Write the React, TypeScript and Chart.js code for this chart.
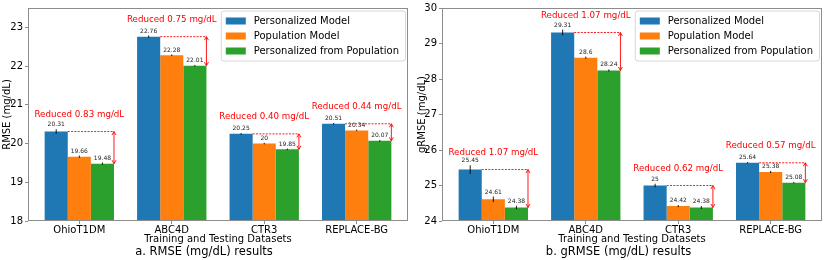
import React, { useEffect, useRef } from 'react';
import { Chart, registerables } from 'chart.js';

Chart.register(...registerables);

const FONT = '"DejaVu Sans", sans-serif';

const categories = ['OhioT1DM', 'ABC4D', 'CTR3', 'REPLACE-BG'];
const seriesNames = ['Personalized Model', 'Population Model', 'Personalized from Population'];
const seriesColors = ['#1f77b4', '#ff7f0e', '#2ca02c'];

// a. RMSE
const rmsePersonalized = [20.31, 22.76, 20.25, 20.51];
const rmsePopulation = [19.66, 22.28, 20, 20.34];
const rmsePersFromPop = [19.48, 22.01, 19.85, 20.07];
const rmseErrPersonalized = [0.06, 0.03, 0.02, 0.02];
const rmseErrPopulation = [0.03, 0.02, 0.02, 0.02];
const rmseErrPersFromPop = [0.03, 0.02, 0.02, 0.02];
const rmseReductions = ['Reduced 0.83 mg/dL', 'Reduced 0.75 mg/dL', 'Reduced 0.40 mg/dL', 'Reduced 0.44 mg/dL'];
const rmseTicks = [18, 19, 20, 21, 22, 23];
const rmseMin = 18;
const rmseMax = 23.5;

// b. gRMSE
const grmsePersonalized = [25.45, 29.31, 25, 25.64];
const grmsePopulation = [24.61, 28.6, 24.42, 25.38];
const grmsePersFromPop = [24.38, 28.24, 24.38, 25.08];
const grmseErrPersonalized = [0.12, 0.08, 0.05, 0.02];
const grmseErrPopulation = [0.08, 0.03, 0.03, 0.03];
const grmseErrPersFromPop = [0.05, 0.03, 0.04, 0.02];
const grmseReductions = ['Reduced 1.07 mg/dL', 'Reduced 1.07 mg/dL', 'Reduced 0.62 mg/dL', 'Reduced 0.57 mg/dL'];
const grmseTicks = [24, 25, 26, 27, 28, 29, 30];
const grmseMin = 24;
const grmseMax = 30;

type PanelProps = {
  series: number[][];
  errors: number[][];
  reductions: string[];
  yTicks: number[];
  yMin: number;
  yMax: number;
  yTitle: string;
  caption: string;
  yWidth: number;
  padRight: number;
};

function makeOverlay(errors: number[][], reductions: string[]) {
  return {
    id: 'overlay',
    afterDatasetsDraw(chart: any) {
      const ctx: CanvasRenderingContext2D = chart.ctx;
      const ys = chart.scales.y;
      const area = chart.chartArea;
      ctx.save();

      // error bars + value labels
      chart.data.datasets.forEach((ds: any, di: number) => {
        const meta = chart.getDatasetMeta(di);
        meta.data.forEach((bar: any, i: number) => {
          const v = ds.data[i].y;
          const e = errors[di][i];
          const yTop = ys.getPixelForValue(v + e);
          const yBot = ys.getPixelForValue(v - e);
          const xc = bar.x;
          ctx.strokeStyle = '#000';
          ctx.lineWidth = 0.9;
          ctx.setLineDash([]);
          ctx.beginPath();
          ctx.moveTo(xc, yTop);
          ctx.lineTo(xc, yBot);
          ctx.stroke();
          ctx.fillStyle = '#222';
          ctx.font = `6px ${FONT}`;
          ctx.textAlign = 'center';
          ctx.textBaseline = 'bottom';
          ctx.fillText(String(v), xc, yTop - 1.5);
        });
      });

      // reduction annotations
      const m0 = chart.getDatasetMeta(0);
      const m1 = chart.getDatasetMeta(1);
      const m2 = chart.getDatasetMeta(2);
      reductions.forEach((label, i) => {
        const b = m0.data[i];
        const g = m2.data[i];
        const o = m1.data[i];
        const x1 = b.x + b.width / 2;
        const x2 = g.x + g.width / 2;
        const yb = b.y;
        const yg = g.y;
        ctx.strokeStyle = '#ff0000';
        ctx.lineWidth = 0.9;
        ctx.setLineDash([2, 1.3]);
        ctx.beginPath();
        ctx.moveTo(x1, yb);
        ctx.lineTo(x2, yb);
        ctx.stroke();
        ctx.setLineDash([]);
        ctx.beginPath();
        ctx.moveTo(x2, yb);
        ctx.lineTo(x2, yg);
        ctx.moveTo(x2 - 2, yb + 3.5);
        ctx.lineTo(x2, yb);
        ctx.lineTo(x2 + 2, yb + 3.5);
        ctx.moveTo(x2 - 2, yg - 3.5);
        ctx.lineTo(x2, yg);
        ctx.lineTo(x2 + 2, yg - 3.5);
        ctx.stroke();
        ctx.fillStyle = '#ff0000';
        ctx.font = `8.7px ${FONT}`;
        ctx.textAlign = 'center';
        ctx.textBaseline = 'middle';
        ctx.fillText(label, o.x, yb - 17);
      });

      // frame
      ctx.strokeStyle = '#8c8c8c';
      ctx.lineWidth = 1;
      ctx.setLineDash([]);
      const L = Math.round(area.left) + 0.5;
      const R = Math.round(area.right) - 0.5;
      const T = Math.round(area.top) + 0.5;
      const B = Math.round(area.bottom) - 0.5;
      ctx.strokeRect(L, T, R - L, B - T);

      // legend (upper right, inside)
      ctx.font = `10px ${FONT}`;
      const names: string[] = chart.data.datasets.map((d: any) => d.label);
      const maxW = Math.max(...names.map((n) => ctx.measureText(n).width));
      const boxW = 33 + maxW + 6;
      const boxH = 50;
      const bx = area.right - 3 - boxW;
      const by = area.top + 2.5;
      ctx.beginPath();
      (ctx as any).roundRect(bx + 0.5, by + 0.5, boxW, boxH, 2.5);
      ctx.fillStyle = 'rgba(255,255,255,0.8)';
      ctx.fill();
      ctx.strokeStyle = '#d6d6d6';
      ctx.stroke();
      chart.data.datasets.forEach((d: any, di: number) => {
        const cy = by + 10.5 + di * 15;
        ctx.fillStyle = d.backgroundColor;
        ctx.fillRect(bx + 5, cy - 3.5, 20, 7);
        ctx.fillStyle = '#000';
        ctx.textAlign = 'left';
        ctx.textBaseline = 'middle';
        ctx.fillText(d.label, bx + 33, cy + 0.5);
      });

      ctx.restore();
    },
  };
}

function Panel(props: PanelProps) {
  const ref = useRef<HTMLCanvasElement | null>(null);
  useEffect(() => {
    if (!ref.current) return;
    const chart = new Chart(ref.current, {
      type: 'bar',
      data: {
        datasets: props.series.map((vals, di) => ({
          label: seriesNames[di],
          data: vals.map((v, i) => ({ x: i, y: v })),
          backgroundColor: seriesColors[di],
          borderWidth: 0,
          categoryPercentage: 0.75,
          barPercentage: 1,
        })),
      },
      options: {
        responsive: false,
        animation: false,
        events: [],
        layout: { padding: { left: 0, right: props.padRight, top: 6, bottom: 0 } },
        plugins: {
          legend: { display: false },
          tooltip: { enabled: false },
          title: {
            display: true,
            text: props.caption,
            position: 'bottom',
            color: '#000',
            font: { family: FONT, size: 11.5, weight: 'normal' },
            padding: { top: 0, bottom: 1.2 },
          },
        },
        scales: {
          x: {
            type: 'linear',
            min: -0.555,
            max: 3.555,
            offset: false,
            grid: { display: true, drawOnChartArea: false, drawTicks: true, tickLength: 3, color: '#8c8c8c', offset: false },
            border: { display: false },
            afterBuildTicks: (scale: any) => {
              scale.ticks = categories.map((_, i) => ({ value: i }));
            },
            afterFit: (scale: any) => {
              scale.height = 24;
            },
            ticks: {
              color: '#000',
              font: { family: FONT, size: 10 },
              padding: 0,
              maxRotation: 0,
              autoSkip: false,
              callback: (value: any) => categories[value as number] ?? '',
            },
            title: {
              display: true,
              text: 'Training and Testing Datasets',
              color: '#000',
              font: { family: FONT, size: 10 },
              padding: { top: 0, bottom: 0 },
            },
          },
          y: {
            type: 'linear',
            min: props.yMin,
            max: props.yMax,
            grid: { display: true, drawOnChartArea: false, drawTicks: true, tickLength: 3, color: '#8c8c8c' },
            border: { display: false },
            afterBuildTicks: (scale: any) => {
              scale.ticks = props.yTicks.map((v) => ({ value: v }));
            },
            afterFit: (scale: any) => {
              scale.width = props.yWidth;
            },
            ticks: {
              color: '#000',
              font: { family: FONT, size: 10 },
              padding: 2,
              callback: (value: any) => String(value),
            },
            title: {
              display: true,
              text: props.yTitle,
              color: '#000',
              font: { family: FONT, size: 10 },
              padding: { top: 1.5, bottom: 0 },
            },
          },
        },
      } as any,
      plugins: [makeOverlay(props.errors, props.reductions)],
    });
    return () => chart.destroy();
  }, []);
  return <canvas ref={ref} width={415} height={260} style={{ width: 415, height: 260, display: 'block' }} />;
}

export default function App() {
  useEffect(() => {
    document.body.style.margin = '0';
  }, []);
  return (
    <div style={{ position: 'fixed', left: 0, top: 0, width: 830, height: 260, display: 'flex', background: '#fff' }}>
      <Panel
        series={[rmsePersonalized, rmsePopulation, rmsePersFromPop]}
        errors={[rmseErrPersonalized, rmseErrPopulation, rmseErrPersFromPop]}
        reductions={rmseReductions}
        yTicks={rmseTicks}
        yMin={rmseMin}
        yMax={rmseMax}
        yTitle="RMSE (mg/dL)"
        caption="a. RMSE (mg/dL) results"
        yWidth={28}
        padRight={7}
      />
      <Panel
        series={[grmsePersonalized, grmsePopulation, grmsePersFromPop]}
        errors={[grmseErrPersonalized, grmseErrPopulation, grmseErrPersFromPop]}
        reductions={grmseReductions}
        yTicks={grmseTicks}
        yMin={grmseMin}
        yMax={grmseMax}
        yTitle="gRMSE (mg/dL)"
        caption="b. gRMSE (mg/dL) results"
        yWidth={27}
        padRight={8}
      />
    </div>
  );
}
